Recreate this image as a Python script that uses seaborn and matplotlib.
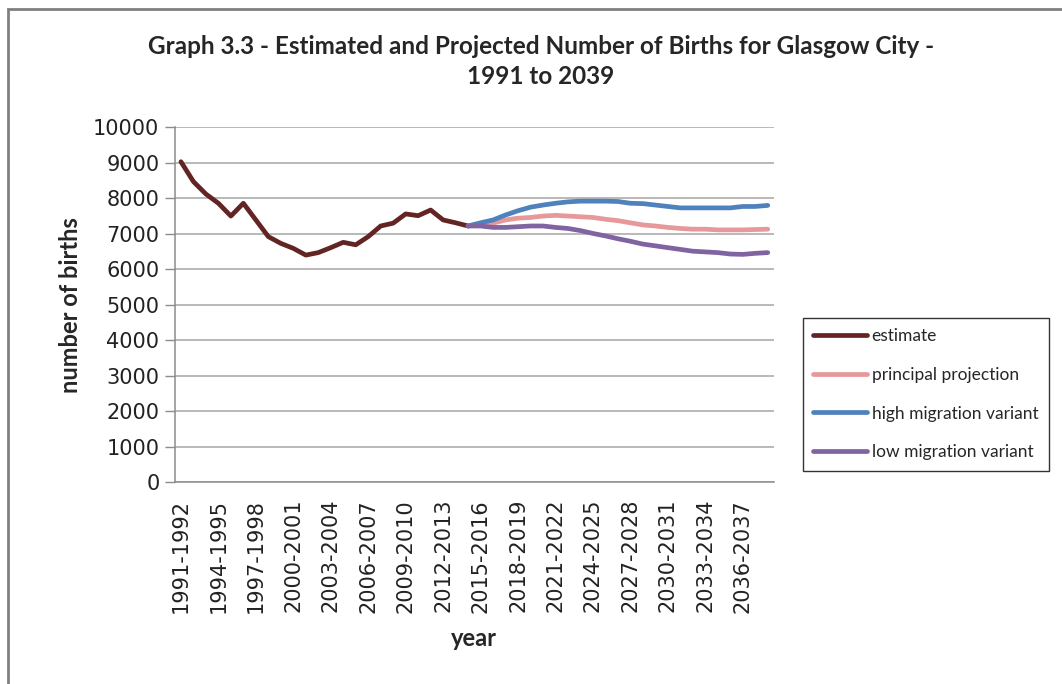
import matplotlib
matplotlib.use("Agg")
import matplotlib.pyplot as plt
from matplotlib.lines import Line2D
from matplotlib.patches import Rectangle
import numpy as np
import pandas as pd
import seaborn as sns

# Financial years 1991-1992 .. 2038-2039
years = [f"{y}-{y + 1}" for y in range(1991, 2039)]

# Estimated births, 1991-1992 .. 2014-2015
estimate = [9030, 8470, 8120, 7860, 7500, 7860, 7390, 6920, 6730, 6590,
            6400, 6470, 6610, 6760, 6690, 6920, 7220, 7300, 7560, 7510,
            7670, 7390, 7310, 7220]

# Projections, 2014-2015 .. 2038-2039
principal = [7220, 7280, 7300, 7390, 7440, 7460, 7500, 7520, 7500, 7480,
             7460, 7410, 7370, 7310, 7250, 7220, 7180, 7150, 7130, 7130,
             7110, 7110, 7110, 7120, 7130]
high_migration = [7220, 7310, 7390, 7530, 7650, 7750, 7810, 7860, 7900, 7920,
                  7920, 7920, 7910, 7860, 7850, 7810, 7770, 7730, 7730, 7730,
                  7730, 7730, 7770, 7770, 7800]
low_migration = [7220, 7220, 7180, 7180, 7200, 7220, 7220, 7180, 7150, 7090,
                 7010, 6940, 6860, 6790, 6710, 6660, 6610, 6560, 6510, 6490,
                 6470, 6430, 6420, 6450, 6470]

series_names = ["estimate", "principal projection",
                "high migration variant", "low migration variant"]
series_values = [estimate, principal, high_migration, low_migration]
series_start = [0, 23, 23, 23]
colors = ["#632523", "#E6989A", "#4F81BD", "#8064A2"]

rows = []
for name, vals, start in zip(series_names, series_values, series_start):
    for k, v in enumerate(vals):
        rows.append({"idx": start + k, "births": v, "series": name})
df = pd.DataFrame(rows)

sns.set_theme(style="white")
plt.rcParams["font.family"] = ["DejaVu Sans"]

W, H = 1062, 684
fig = plt.figure(figsize=(W / 100, H / 100), dpi=100)
ax = fig.add_axes([174.7 / W, 1 - 482.3 / H, (774 - 174.7) / W, (482.3 - 127.3) / H])

sns.lineplot(data=df, x="idx", y="births", hue="series", hue_order=series_names,
             palette=colors, linewidth=3.4, ax=ax, legend=False, sort=True)

ax.set_xlim(-0.5, len(years) - 0.5)
ax.set_ylim(0, 10000)
ax.set_yticks(np.arange(0, 10001, 1000))
ax.set_yticklabels([str(v) for v in range(0, 10001, 1000)], fontsize=15, color="#222222")
ax.yaxis.grid(True, color="#A6A6A6", linewidth=1.1)
ax.xaxis.grid(False)
ax.set_axisbelow(True)

label_pos = list(range(0, len(years), 3))
ax.set_xticks(label_pos)
ax.set_xticklabels([years[i] for i in label_pos], rotation=90, fontsize=15, color="#222222")
ax.set_xticks(np.arange(-0.5, len(years) + 0.5, 1), minor=True)
ax.tick_params(axis="x", which="major", length=0, pad=12)
ax.tick_params(axis="x", which="minor", length=6, width=1, color="#8C8C8C", direction="out")
ax.tick_params(axis="y", which="major", length=7, width=1, color="#8C8C8C", direction="out", pad=4)
ax.tick_params(bottom=True, left=True)

for side in ["top", "right"]:
    ax.spines[side].set_visible(False)
for side in ["left", "bottom"]:
    ax.spines[side].set_color("#8C8C8C")
    ax.spines[side].set_linewidth(1.1)

ax.set_xlabel("year", fontsize=17, fontweight="bold", family="Lato", labelpad=10)
ax.set_ylabel("number of births", fontsize=17, fontweight="bold", family="Lato", labelpad=8)

fig.text(541 / W, 1 - 46 / H, "Graph 3.3 - Estimated and Projected Number of Births for Glasgow City -",
         ha="center", va="center", fontsize=17.5, fontweight="bold", family="Lato")
fig.text(541 / W, 1 - 77 / H, "1991 to 2039",
         ha="center", va="center", fontsize=17.5, fontweight="bold", family="Lato")

handles = [Line2D([0], [0], color=c, linewidth=3.4) for c in colors]
leg = ax.legend(handles, series_names, loc="upper left",
                bbox_to_anchor=(803 / W, 1 - 318 / H), bbox_transform=fig.transFigure,
                frameon=True, fancybox=False, edgecolor="black", borderaxespad=0,
                prop={"family": "Lato", "size": 12.5}, handlelength=3.1, handletextpad=0.25,
                labelspacing=1.3, borderpad=0.6)
leg.get_frame().set_linewidth(1.0)

# chart area border
fig.patches.append(Rectangle((8 / W, -0.1), 1.2, 1 - 9 / H + 0.1, transform=fig.transFigure,
                             fill=False, edgecolor="#808080", linewidth=2))

fig.savefig("out.png", dpi=100)
